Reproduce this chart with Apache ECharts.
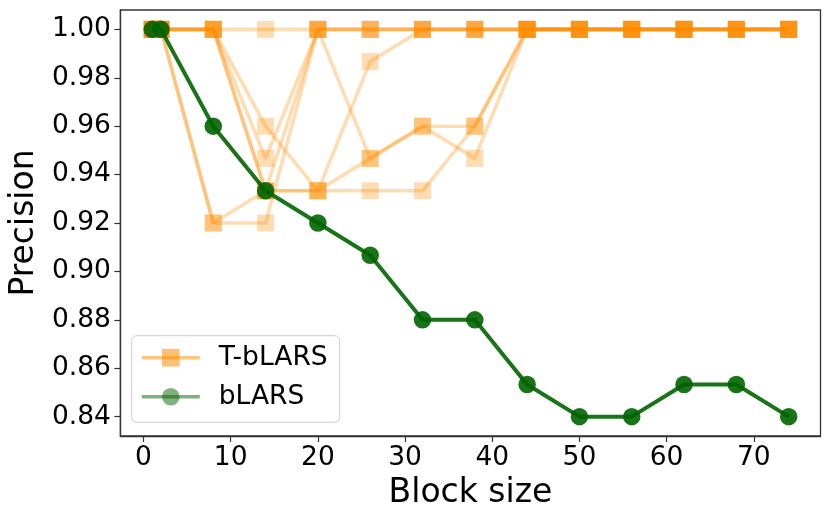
<!DOCTYPE html>
<html>
<head>
<meta charset="utf-8">
<script src="https://cdn.jsdelivr.net/npm/echarts@6/dist/echarts.min.js"></script>
<style>
  html, body { margin: 0; padding: 0; background: #fff; }
  #chart { width: 831px; height: 521px; }
</style>
</head>
<body>
<div id="chart"></div>
<script>
// ---- data ----
const blockSizes = [1, 2, 8, 14, 20, 26, 32, 38, 44, 50, 56, 62, 68, 74];
const xTicks = [0, 10, 20, 30, 40, 50, 60, 70];
const yTicks = [0.84, 0.86, 0.88, 0.90, 0.92, 0.94, 0.96, 0.98, 1.00];

const bLARS = [1.00, 1.00, 0.96, 0.9333, 0.92, 0.9067, 0.88, 0.88, 0.8533, 0.84, 0.84, 0.8533, 0.8533, 0.84];

const tRun1 = [1, 1, 1, 1, 1, 1, 1, 1, 1, 1, 1, 1, 1, 1];
const tRun2 = [1, 1, 1, 0.96, 0.9333, 0.9867, 1, 1, 1, 1, 1, 1, 1, 1];
const tRun3 = [1, 1, 1, 0.9467, 1, 1, 1, 1, 1, 1, 1, 1, 1, 1];
const tRun4 = [1, 1, 1, 0.9333, 1, 0.9467, 0.96, 0.96, 1, 1, 1, 1, 1, 1];
const tRun5 = [1, 1, 1, 0.9333, 0.9333, 0.9467, 0.96, 0.9467, 1, 1, 1, 1, 1, 1];
const tRun6 = [1, 1, 0.92, 0.9333, 0.9333, 0.9333, 0.9333, 0.96, 1, 1, 1, 1, 1, 1];
const tRun7 = [1, 1, 0.92, 0.92, 1, 1, 1, 1, 1, 1, 1, 1, 1, 1];
const tRuns = [tRun1, tRun2, tRun3, tRun4, tRun5, tRun6, tRun7];

const orange = '#ff8c00';
const green = '#006400';
const font = 'DejaVu Sans';

function pairs(ys) { return blockSizes.map((x, i) => [x, ys[i]]); }

const series = tRuns.map(run => ({
  name: 'T-bLARS',
  type: 'line',
  data: pairs(run),
  symbol: 'rect',
  symbolSize: 17,
  lineStyle: { color: orange, width: 3.6, opacity: 0.3 },
  itemStyle: { color: orange, opacity: 0.3 },
  emphasis: { disabled: true },
  z: 2
}));
series.push({
  name: 'bLARS',
  type: 'line',
  data: pairs(bLARS),
  symbol: 'circle',
  symbolSize: 17.5,
  lineStyle: { color: green, width: 4, opacity: 0.9 },
  itemStyle: { color: green, opacity: 0.9 },
  emphasis: { disabled: true },
  z: 3
});

const chart = echarts.init(document.getElementById('chart'), null, { renderer: 'canvas' });
chart.setOption({
  animation: false,
  backgroundColor: '#fff',
  textStyle: { fontFamily: font },
  grid: {
    left: 117.5, right: 10.5, top: 10, bottom: 85,
    show: true, borderColor: '#333', borderWidth: 1.3, backgroundColor: 'transparent'
  },
  xAxis: {
    type: 'value',
    min: -2.65, max: 77.65,
    name: 'Block size',
    nameLocation: 'middle',
    nameGap: 38,
    nameTextStyle: { fontSize: 33, color: '#000', fontFamily: font },
    axisLine: { show: true, onZero: false, lineStyle: { color: '#333', width: 1.3 } },
    axisTick: { show: true, length: 6, lineStyle: { color: '#333', width: 1.2 }, customValues: xTicks },
    axisLabel: { fontSize: 26.5, color: '#000', margin: 9, fontFamily: font, customValues: xTicks },
    splitLine: { show: false }
  },
  yAxis: {
    type: 'value',
    min: 0.832, max: 1.008,
    name: 'Precision',
    nameLocation: 'middle',
    nameGap: 76,
    nameTextStyle: { fontSize: 33, color: '#000', fontFamily: font },
    axisLine: { show: true, onZero: false, lineStyle: { color: '#333', width: 1.3 } },
    axisTick: { show: true, length: 6, lineStyle: { color: '#333', width: 1.2 }, customValues: yTicks },
    axisLabel: {
      fontSize: 26.5, color: '#000', margin: 9.5, fontFamily: font, customValues: yTicks,
      formatter: v => v.toFixed(2)
    },
    splitLine: { show: false }
  },
  legend: {
    orient: 'vertical',
    left: 131.7,
    top: 335.7,
    padding: [8.5, 12, 12, 8.3],
    itemGap: 12,
    itemWidth: 58,
    itemHeight: 22,
    backgroundColor: 'rgba(255,255,255,0.8)',
    borderColor: '#cccccc',
    borderWidth: 1,
    borderRadius: 5,
    selectedMode: false,
    textStyle: { fontSize: 26.5, color: '#000', fontFamily: font, padding: [0, 0, 0, 14] },
    data: [
      { name: 'T-bLARS', itemStyle: { color: orange, opacity: 0.55 }, lineStyle: { color: orange, width: 3.6, opacity: 0.5 } },
      { name: 'bLARS', itemStyle: { color: green, opacity: 0.5 }, lineStyle: { color: green, width: 3.6, opacity: 0.5 } }
    ]
  },
  series: series
});
</script>
</body>
</html>
